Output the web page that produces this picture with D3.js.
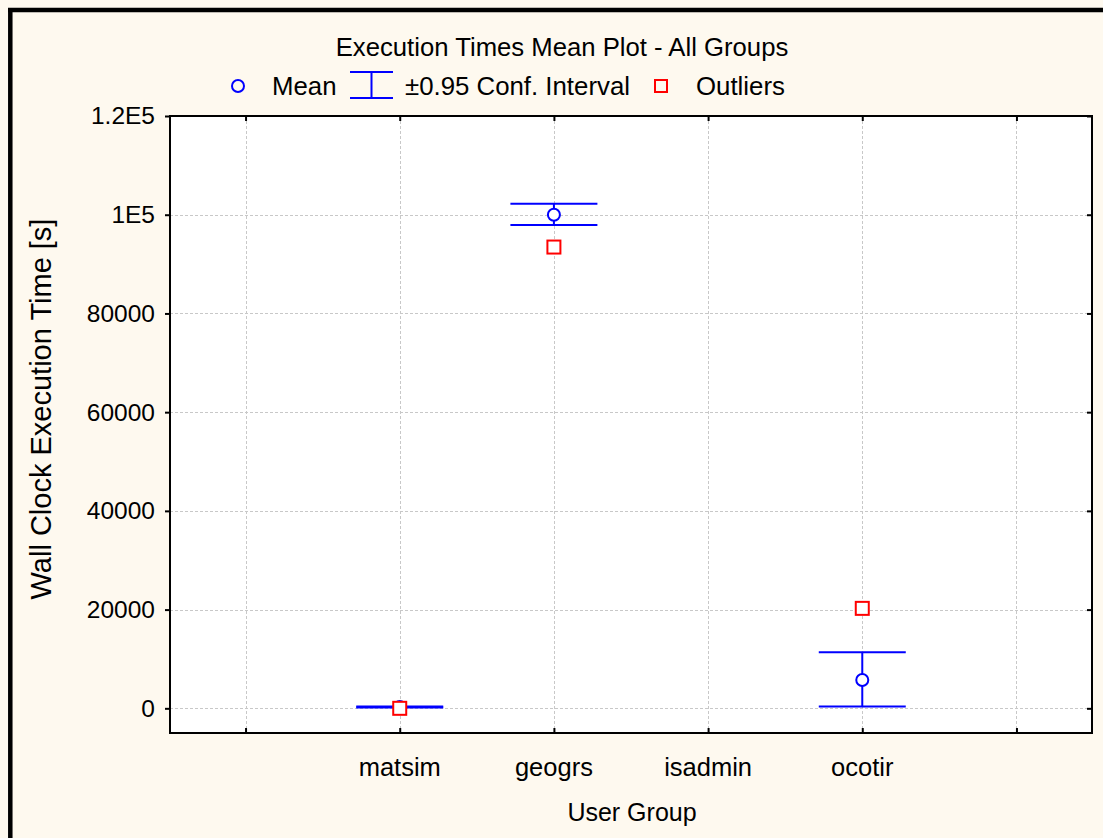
<!DOCTYPE html>
<html>
<head>
<meta charset="utf-8">
<script src="https://cdn.jsdelivr.net/npm/d3@7"></script>
<style>
  html, body { margin: 0; padding: 0; background: #fef9ef; overflow: hidden; }
  svg { display: block; }
  text { font-family: "Liberation Sans", Arial, sans-serif; fill: #000; }
</style>
</head>
<body>
<svg id="chart" width="1103" height="838"></svg>
<script>
// ---- data ----
const categories = ["", "matsim", "geogrs", "isadmin", "ocotir", " "];
const meanGroups = ["matsim", "geogrs", "ocotir"];
const means = [250, 100000, 5750];
const ciLower = [150, 97900, 350];
const ciUpper = [350, 102200, 11350];
const outlierGroups = ["matsim", "geogrs", "ocotir"];
const outliers = [0, 93450, 20250];
const yTickValues = [0, 20000, 40000, 60000, 80000, 100000, 120000];
const yTickLabels = ["0", "20000", "40000", "60000", "80000", "1E5", "1.2E5"];
const titleText = "Execution Times Mean Plot - All Groups";
const xTitle = "User Group";
const yTitle = "Wall Clock Execution Time [s]";
const legendLabels = ["Mean", "\u00B10.95 Conf. Interval", "Outliers"];

// ---- layout ----
const W = 1103, H = 838;
const L = 170, R = 1092, T = 116, B = 733;
const svg = d3.select("#chart");

// outer background + frame (top and left edges visible)
svg.append("rect").attr("x", 0).attr("y", 0).attr("width", W).attr("height", H).attr("fill", "#fef9ef");
svg.append("line").attr("x1", 8).attr("x2", W + 10).attr("y1", 10).attr("y2", 10)
  .attr("stroke", "#000").attr("stroke-width", 4.5);
svg.append("line").attr("x1", 10.3).attr("x2", 10.3).attr("y1", 8).attr("y2", H + 10)
  .attr("stroke", "#000").attr("stroke-width", 4.5);

const x = d3.scalePoint().domain(categories).range([L, R]).padding(0.49);
const y = d3.scaleLinear().domain([-5000, 120000]).range([B, T]);

// plot background
svg.append("rect").attr("x", L).attr("y", T).attr("width", R - L).attr("height", B - T).attr("fill", "#fff");

// grid
const grid = svg.append("g").attr("stroke", "#c8c8c8").attr("stroke-width", 1).attr("stroke-dasharray", "3,2");
grid.selectAll("line.v").data(categories).join("line")
  .attr("x1", d => Math.round(x(d)) + 0.5).attr("x2", d => Math.round(x(d)) + 0.5)
  .attr("y1", T).attr("y2", B);
grid.selectAll("line.h").data(yTickValues.slice(0, -1)).join("line")
  .attr("x1", L).attr("x2", R)
  .attr("y1", d => Math.round(y(d)) + 0.5).attr("y2", d => Math.round(y(d)) + 0.5);

// axes
const fmt = d => yTickLabels[yTickValues.indexOf(d)];
const yAxisL = d3.axisLeft(y).tickValues(yTickValues).tickFormat(fmt).tickSize(5).tickPadding(10);
const yAxisR = d3.axisLeft(y).tickValues(yTickValues).tickFormat("").tickSize(5);
const xAxisB = d3.axisTop(x).tickFormat("").tickSize(5);
const xAxisT = d3.axisBottom(x).tickFormat("").tickSize(5);

const gL = svg.append("g").attr("transform", `translate(${L},0)`).call(yAxisL);
const gR = svg.append("g").attr("transform", `translate(${R},0)`).call(yAxisR);
const gB = svg.append("g").attr("transform", `translate(0,${B})`).call(xAxisB);
const gT = svg.append("g").attr("transform", `translate(0,${T})`).call(xAxisT);
[gL, gR, gB, gT].forEach(g => {
  g.select(".domain").remove();
  g.selectAll(".tick line").attr("stroke", "#000").attr("stroke-width", 2);
});
gL.selectAll(".tick text").attr("font-size", 24.5).attr("font-family", "Liberation Sans, Arial, sans-serif").attr("fill", "#000");

// category labels
svg.append("g").selectAll("text").data(categories.filter(c => c.trim() !== "")).join("text")
  .attr("x", d => x(d)).attr("y", 776).attr("text-anchor", "middle").attr("font-size", 25.5).text(d => d);

// frame
svg.append("rect").attr("x", L).attr("y", T).attr("width", R - L).attr("height", B - T)
  .attr("fill", "none").attr("stroke", "#000").attr("stroke-width", 2);

// CI & means
const hw = 43.5;
const ci = svg.append("g").attr("stroke", "#0000ff").attr("stroke-width", 2);
meanGroups.forEach((g, i) => {
  const cx = x(g);
  ci.append("line").attr("x1", cx).attr("x2", cx).attr("y1", y(ciUpper[i])).attr("y2", y(ciLower[i]));
  ci.append("line").attr("x1", cx - hw).attr("x2", cx + hw).attr("y1", y(ciUpper[i])).attr("y2", y(ciUpper[i]));
  ci.append("line").attr("x1", cx - hw).attr("x2", cx + hw).attr("y1", y(ciLower[i])).attr("y2", y(ciLower[i]));
});
svg.append("g").selectAll("circle").data(means).join("circle")
  .attr("cx", (d, i) => x(meanGroups[i])).attr("cy", d => y(d)).attr("r", 6)
  .attr("fill", "#fff").attr("stroke", "#0000ff").attr("stroke-width", 2);

// outliers
const s = 13;
svg.append("g").selectAll("rect").data(outliers).join("rect")
  .attr("x", (d, i) => x(outlierGroups[i]) - s / 2).attr("y", d => y(d) - s / 2)
  .attr("width", s).attr("height", s)
  .attr("fill", "#fff").attr("stroke", "#ff0000").attr("stroke-width", 2);

// title
svg.append("text").attr("x", 562).attr("y", 56).attr("text-anchor", "middle")
  .attr("font-size", 25.7).text(titleText);

// legend
const ly = 86;
svg.append("circle").attr("cx", 238).attr("cy", ly).attr("r", 6).attr("fill", "none")
  .attr("stroke", "#0000ff").attr("stroke-width", 2);
svg.append("text").attr("x", 272).attr("y", ly + 9).attr("font-size", 25.8).text(legendLabels[0]);
const lg = svg.append("g").attr("stroke", "#0000ff").attr("stroke-width", 2);
lg.append("line").attr("x1", 350).attr("x2", 393).attr("y1", 72).attr("y2", 72);
lg.append("line").attr("x1", 350).attr("x2", 393).attr("y1", 98).attr("y2", 98);
lg.append("line").attr("x1", 371.5).attr("x2", 371.5).attr("y1", 72).attr("y2", 98);
svg.append("text").attr("x", 405).attr("y", ly + 9).attr("font-size", 25.8).text(legendLabels[1]);
svg.append("rect").attr("x", 661 - 6).attr("y", ly - 6).attr("width", 12).attr("height", 12)
  .attr("fill", "none").attr("stroke", "#ff0000").attr("stroke-width", 2);
svg.append("text").attr("x", 696).attr("y", ly + 9).attr("font-size", 25.8).text(legendLabels[2]);

// axis titles
svg.append("text").attr("x", 632).attr("y", 821).attr("text-anchor", "middle").attr("font-size", 25).text(xTitle);
svg.append("text").attr("transform", "translate(51,409) rotate(-90)").attr("text-anchor", "middle")
  .attr("font-size", 29).text(yTitle);
</script>
</body>
</html>
